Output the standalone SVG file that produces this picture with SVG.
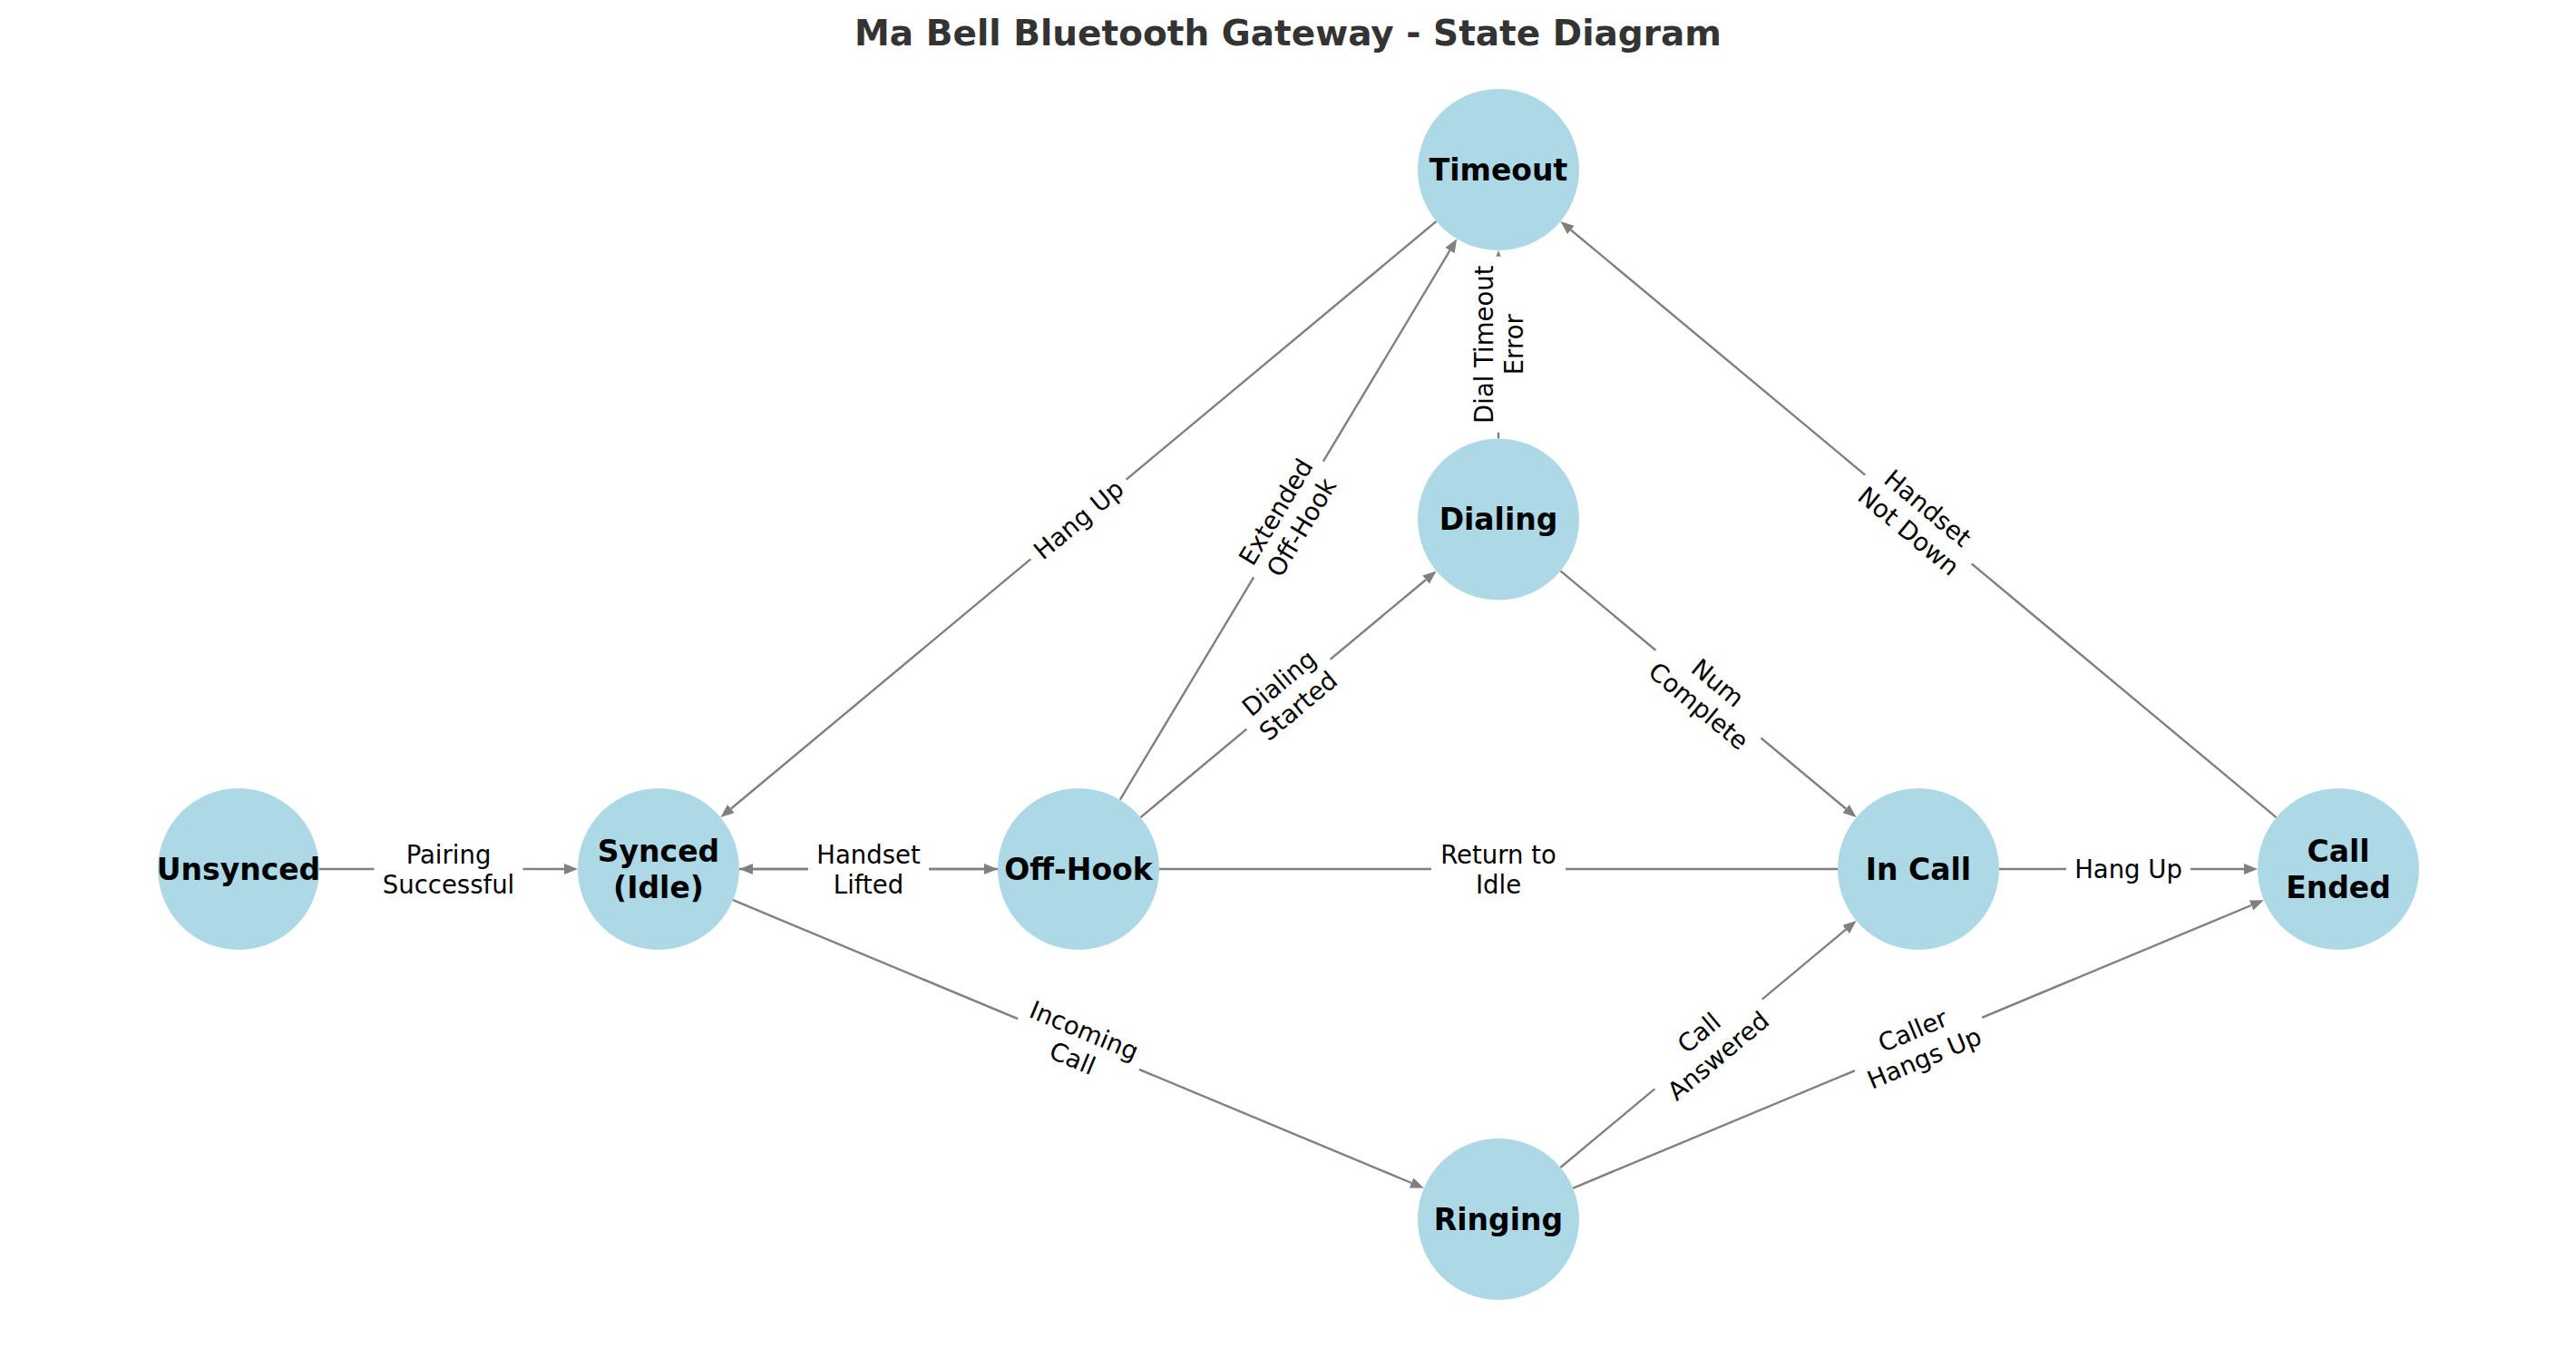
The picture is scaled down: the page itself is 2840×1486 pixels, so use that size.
<svg xmlns="http://www.w3.org/2000/svg" width="2840" height="1486" viewBox="0 0 2840 1486">
<style>
.edge{stroke:#808080;stroke-width:2.4;fill:none;marker-end:url(#ah)}
.plain{stroke:#808080;stroke-width:2.4;fill:none}
.node circle{fill:#ADD8E6}
.node text{font-family:"DejaVu Sans",sans-serif;font-weight:bold;font-size:33px;fill:#000;text-anchor:middle;dominant-baseline:central}
.lbl rect{fill:#fff}
.lbl text{font-family:"DejaVu Sans",sans-serif;font-size:27.5px;fill:#000;text-anchor:middle;dominant-baseline:central}
.title{font-family:"DejaVu Sans",sans-serif;font-weight:bold;font-size:39px;fill:#333333;text-anchor:middle}
</style>
<defs>
<marker id="ah" markerUnits="userSpaceOnUse" markerWidth="16" markerHeight="14" refX="0" refY="7" orient="auto" viewBox="0 0 16 14"><path d="M0,1 L15,7 L0,13 z" fill="#808080"/></marker>
</defs>
<rect width="2840" height="1486" fill="#fff"/>
<text class="title" x="1420" y="50">Ma Bell Bluetooth Gateway - State Diagram</text>
<g id="connectors">
<line class="edge" x1="352" y1="958" x2="622" y2="958"/>
<line class="edge" x1="815" y1="958" x2="1085" y2="958"/>
<line class="edge" x1="2026" y1="958" x2="830" y2="958"/>
<line class="edge" x1="1257.4" y1="901.1" x2="1572.1" y2="639"/>
<line class="edge" x1="1234.8" y1="881.7" x2="1598.5" y2="276.2"/>
<line class="edge" x1="1583.6" y1="243.9" x2="805.9" y2="891.5"/>
<line class="edge" x1="1652" y1="483.5" x2="1652" y2="291"/>
<line class="edge" x1="1720.4" y1="629.4" x2="2035.1" y2="891.5"/>
<line class="edge" x1="2204" y1="958" x2="2474" y2="958"/>
<line class="edge" x1="2509.6" y1="901.1" x2="1731.9" y2="253.5"/>
<line class="edge" x1="808.1" y1="992.2" x2="1556" y2="1304"/>
<line class="edge" x1="1720.4" y1="1287" x2="2035.1" y2="1024.6"/>
<line class="edge" x1="1734.1" y1="1309.8" x2="2482" y2="998"/>
</g>
<g id="edge-labels">
<g class="lbl" transform="translate(494.5,958)"><rect x="-82" y="-41" width="164" height="82" rx="8"/><text y="-16.5">Pairing</text><text y="16.5">Successful</text></g>
<g class="lbl" transform="translate(957.5,958)"><rect x="-66.5" y="-41" width="133" height="82" rx="8"/><text y="-16.5">Handset</text><text y="16.5">Lifted</text></g>
<g class="lbl" transform="translate(1652,958)"><rect x="-74" y="-41" width="148" height="82" rx="8"/><text y="-16.5">Return to</text><text y="16.5">Idle</text></g>
<g class="lbl" transform="translate(1420.5,765.25) rotate(-39.78)"><rect x="-60" y="-41" width="120" height="82" rx="8"/><text y="-16.5">Dialing</text><text y="16.5">Started</text></g>
<g class="lbl" transform="translate(1420.5,572.5) rotate(-59.01)"><rect x="-74.5" y="-41" width="149" height="82" rx="8"/><text y="-16.5">Extended</text><text y="16.5">Off-Hook</text></g>
<g class="lbl" transform="translate(1189,572.5) rotate(-39.78)"><rect x="-68.5" y="-24.5" width="137" height="49" rx="8"/><text y="0">Hang Up</text></g>
<g class="lbl" transform="translate(1652,379.75) rotate(-90)"><rect x="-97" y="-41" width="194" height="82" rx="8"/><text y="-16.5">Dial Timeout</text><text y="16.5">Error</text></g>
<g class="lbl" transform="translate(1883.5,765.25) rotate(39.78)"><rect x="-75.5" y="-41" width="151" height="82" rx="8"/><text y="-16.5">Num</text><text y="16.5">Complete</text></g>
<g class="lbl" transform="translate(2346.5,958)"><rect x="-68.5" y="-24.5" width="137" height="49" rx="8"/><text y="0">Hang Up</text></g>
<g class="lbl" transform="translate(2115,572.5) rotate(39.78)"><rect x="-76.5" y="-41" width="153" height="82" rx="8"/><text y="-16.5">Handset</text><text y="16.5">Not Down</text></g>
<g class="lbl" transform="translate(1189,1151) rotate(22.63)"><rect x="-72.5" y="-41" width="145" height="82" rx="8"/><text y="-16.5">Incoming</text><text y="16.5">Call</text></g>
<g class="lbl" transform="translate(1883.5,1151) rotate(-39.82)"><rect x="-77" y="-41" width="154" height="82" rx="8"/><text y="-16.5">Call</text><text y="16.5">Answered</text></g>
<g class="lbl" transform="translate(2115,1151) rotate(-22.63)"><rect x="-76" y="-41" width="152" height="82" rx="8"/><text y="-16.5">Caller</text><text y="16.5">Hangs Up</text></g>
</g>
<g id="node-unsynced" class="node"><circle cx="263" cy="958" r="89"/><text x="263" y="958">Unsynced</text></g>
<g id="node-synced" class="node"><circle cx="726" cy="958" r="89"/><text x="726" y="938">Synced</text><text x="726" y="978">(Idle)</text></g>
<g id="node-offhook" class="node"><circle cx="1189" cy="958" r="89"/><text x="1189" y="958">Off-Hook</text></g>
<g id="node-dialing" class="node"><circle cx="1652" cy="572.5" r="89"/><text x="1652" y="572.5">Dialing</text></g>
<g id="node-timeout" class="node"><circle cx="1652" cy="187" r="89"/><text x="1652" y="187">Timeout</text></g>
<g id="node-incall" class="node"><circle cx="2115" cy="958" r="89"/><text x="2115" y="958">In Call</text></g>
<g id="node-callended" class="node"><circle cx="2578" cy="958" r="89"/><text x="2578" y="938">Call</text><text x="2578" y="978">Ended</text></g>
<g id="node-ringing" class="node"><circle cx="1652" cy="1344" r="89"/><text x="1652" y="1344">Ringing</text></g>
</svg>
